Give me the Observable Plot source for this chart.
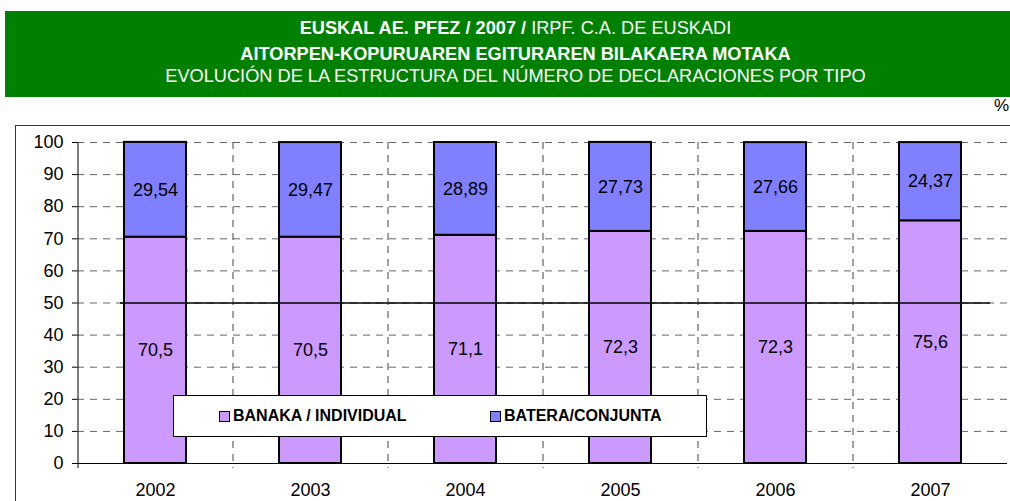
<!DOCTYPE html>
<html>
<head>
<meta charset="utf-8">
<script src="https://cdn.jsdelivr.net/npm/d3@7"></script>
<script src="https://cdn.jsdelivr.net/npm/@observablehq/plot@0.6"></script>
<style>
  body { margin: 0; background: #fff; font-family: "Liberation Sans", Arial, sans-serif; }
  #wrap { position: relative; width: 1010px; height: 501px; overflow: hidden; }
  #banner { position: absolute; left: 5px; top: 11px; width: 1005px; height: 86px; background: #008000; color: #fff; text-align: center; font-size: 18.2px; }
  #banner div { position: absolute; left: 16px; right: 0; white-space: nowrap; }
  #pct { position: absolute; right: 1px; top: 96px; font-size: 17px; color: #000; }
  #frame { position: absolute; left: 15px; top: 125px; width: 1000px; height: 400px; border-left: 1px solid #333; border-top: 1px solid #333; }
  #chart { position: absolute; left: 0; top: 100px; }
  #legend { position: absolute; left: 173px; top: 395px; width: 532px; height: 40px; background: #fff; border: 1px solid #000; font-size: 16px; font-weight: bold; }
  .item { position: absolute; top: 11px; display: flex; align-items: center; }
  .sw { width: 9px; height: 9px; border: 1.5px solid #000; margin-right: 3px; }
</style>
</head>
<body>
<div id="wrap">
  <div id="banner">
    <div style="top:7px"><b>EUSKAL AE. PFEZ / 2007 /</b> IRPF. C.A. DE EUSKADI</div>
    <div style="top:33px"><b>AITORPEN-KOPURUAREN EGITURAREN BILAKAERA MOTAKA</b></div>
    <div style="top:55px">EVOLUCIÓN DE LA ESTRUCTURA DEL NÚMERO DE DECLARACIONES POR TIPO</div>
  </div>
  <div id="pct">%</div>
  <div id="frame"></div>
  <div id="chart"></div>
  <div id="legend"></div>
</div>
<script>
const years = ["2002", "2003", "2004", "2005", "2006", "2007"];
const individual = [70.5, 70.5, 71.1, 72.3, 72.3, 75.6];
const conjunta = [29.54, 29.47, 28.89, 27.73, 27.66, 24.37];
const seriesNames = ["BANAKA / INDIVIDUAL", "BATERA/CONJUNTA"];
const seriesColors = ["#CC99FF", "#8080FF"];
const yTicks = [0, 10, 20, 30, 40, 50, 60, 70, 80, 90, 100];

const rows = years.flatMap((y, i) => [
  {year: y, type: seriesNames[0], value: individual[i]},
  {year: y, type: seriesNames[1], value: conjunta[i]}
]);

const W = 1010, H = 401, mL = 77, mR = 3, mT = 42, mB = 38;
const step = (W - mL - mR) / years.length;
const fmt = v => String(v).replace(".", ",");

const chart = Plot.plot({
  width: W, height: H,
  marginLeft: mL, marginRight: mR, marginTop: mT, marginBottom: mB,
  style: {fontFamily: "'Liberation Sans', Arial, sans-serif", fontSize: "18px", color: "#000", background: "transparent"},
  x: {domain: years, type: "band", paddingInner: 0.6, paddingOuter: 0.3, label: null, tickSize: 0, tickPadding: 20},
  y: {domain: [0, 100], ticks: yTicks, label: null, tickSize: 5, tickPadding: 9},
  color: {domain: seriesNames, range: seriesColors},
  marks: [
    Plot.ruleY(yTicks.filter(t => t > 0), {stroke: "#666", strokeDasharray: "7,6"}),
    Plot.ruleX(years.slice(1), {dx: -step / 2, stroke: "#444", strokeDasharray: "7,6", insetBottom: -5}),
    Plot.ruleX(years.slice(0, 1), {dx: -step / 2, stroke: "#000", insetBottom: -5}),
    Plot.barY(rows, Plot.stackY({x: "year", y: "value", z: "type", fill: "type", stroke: "#000", strokeWidth: 2, order: null})),
    Plot.ruleY([50], {stroke: "#000", strokeWidth: 1.6, insetLeft: 43, insetRight: 17}),
    Plot.ruleY([0], {stroke: "#000", strokeWidth: 1.2}),
    Plot.text(rows, Plot.stackY({x: "year", y: "value", z: "type", text: d => fmt(d.value), fill: "#000", fontSize: 18, order: null}))
  ]
});
document.getElementById("chart").appendChild(chart);

const legend = document.getElementById("legend");
const legendLeft = [45, 316];
seriesNames.forEach((name, i) => {
  const item = document.createElement("div");
  item.className = "item";
  item.style.left = legendLeft[i] + "px";
  item.innerHTML = `<span class="sw" style="background:${seriesColors[i]}"></span><span>${name}</span>`;
  legend.appendChild(item);
});
</script>
</body>
</html>
